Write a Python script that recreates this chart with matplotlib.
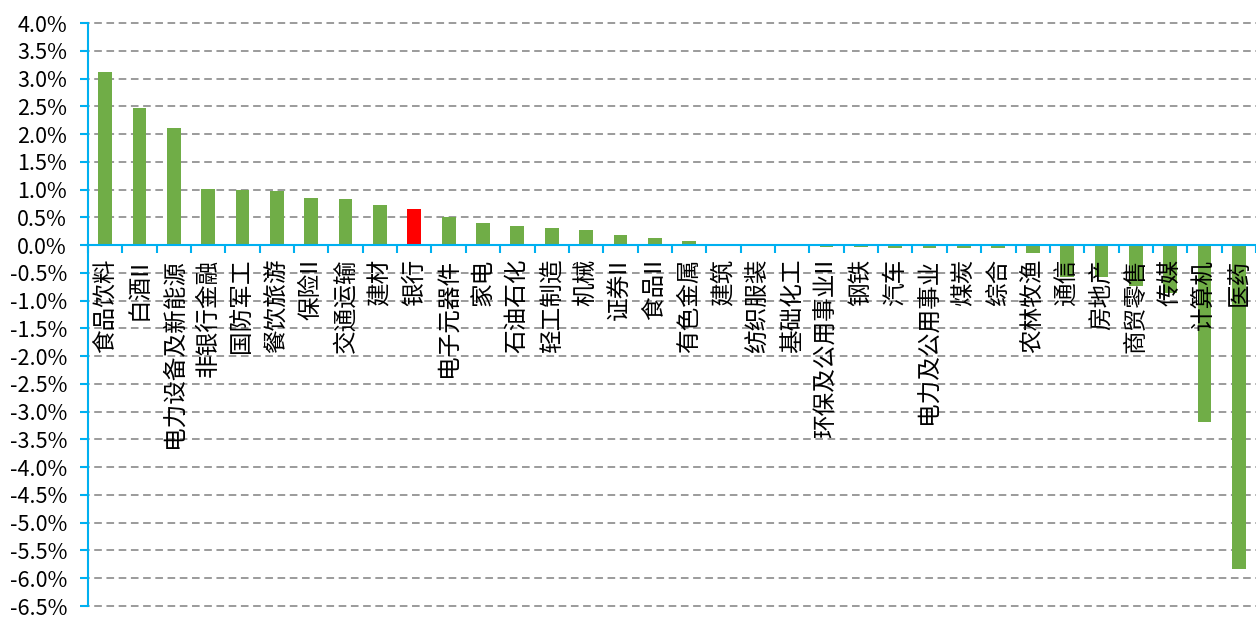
import numpy as np
import matplotlib
matplotlib.use('Agg')
import matplotlib.pyplot as plt
from matplotlib.ticker import FuncFormatter, FixedLocator

plt.rcParams['font.family'] = ['Noto Sans CJK SC', 'DejaVu Sans']

# 行业涨跌幅（%）
industries = ['食品饮料', '白酒II', '电力设备及新能源', '非银行金融', '国防军工', '餐饮旅游',
              '保险II', '交通运输', '建材', '银行', '电子元器件', '家电', '石油石化', '轻工制造',
              '机械', '证券II', '食品II', '有色金属', '建筑', '纺织服装', '基础化工',
              '环保及公用事业II', '钢铁', '汽车', '电力及公用事业', '煤炭', '综合', '农林牧渔',
              '通信', '房地产', '商贸零售', '传媒', '计算机', '医药']
changes = [3.12, 2.47, 2.11, 1.01, 0.99, 0.97, 0.85, 0.83, 0.72, 0.65, 0.50, 0.40, 0.35,
           0.30, 0.27, 0.18, 0.12, 0.08, 0.00, -0.01, -0.02, -0.03, -0.04, -0.05, -0.05,
           -0.06, -0.06, -0.14, -0.57, -0.57, -0.74, -0.87, -3.18, -5.84]
highlight = '银行'

green = '#70AD47'
red = '#FF0000'
blue = '#00B0F0'

fig = plt.figure(figsize=(12.56, 6.17), dpi=100)
ax = fig.add_axes([0.070, 0.0178, 0.930, 0.9449])

x = np.arange(len(industries))
colors = [red if name == highlight else green for name in industries]
ax.bar(x, changes, width=0.4, color=colors, zorder=3)

xmin, xmax = -0.5, len(industries) - 0.5
ax.set_xlim(xmin, xmax)
ax.set_ylim(-6.5, 4.0)
yticks = np.arange(-6.5, 4.01, 0.5)
ax.set_yticks(yticks)
ax.yaxis.set_major_formatter(FuncFormatter(lambda v, p: f'{v:.1f}%'))

# 网格线（略微伸出纵轴左侧，和原图一致）
ax.hlines(yticks, xmin - 0.17, xmax, colors='#808080', linestyles=(0, (5, 3)),
          linewidth=1.1, zorder=1, clip_on=False)

# 坐标轴
for side in ['top', 'right']:
    ax.spines[side].set_visible(False)
ax.spines['bottom'].set_position(('data', 0))
ax.spines['bottom'].set_color(blue)
ax.spines['bottom'].set_linewidth(1.5)
ax.spines['bottom'].set_zorder(4)
ax.spines['left'].set_color(blue)
ax.spines['left'].set_linewidth(1.5)
ax.spines['left'].set_zorder(4)

ax.set_xticks(x)
ax.set_xticklabels([])
ax.xaxis.set_minor_locator(FixedLocator(np.arange(-0.5, len(industries), 1.0)))
ax.tick_params(axis='x', which='major', length=0)
ax.tick_params(axis='x', which='minor', length=6, width=1.5, color=blue, direction='out')
ax.tick_params(axis='y', length=6, width=1.5, color=blue, direction='out', labelsize=15.5, pad=9)

# 行业名称，竖排，画在柱子上方
for i, name in enumerate(industries):
    ax.annotate(name, xy=(i, 0), xytext=(0, -10), textcoords='offset points',
                rotation=90, va='top', ha='center', fontsize=17, zorder=5,
                annotation_clip=False)

fig.savefig('out.png', dpi=100)
